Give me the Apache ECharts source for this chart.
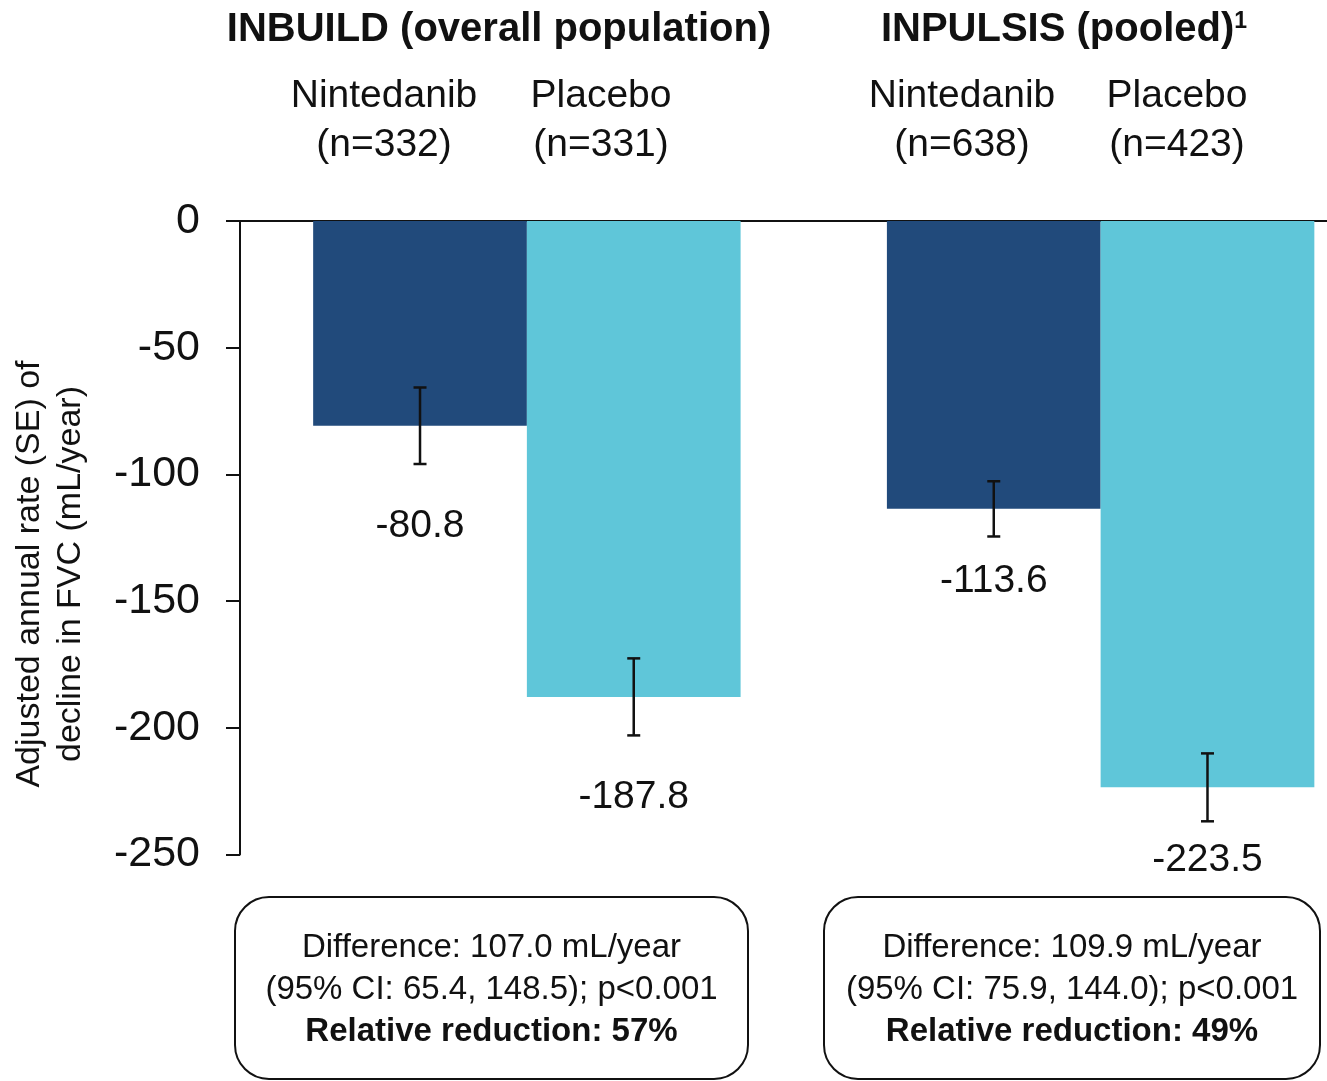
<!DOCTYPE html>
<html>
<head>
<meta charset="utf-8">
<script src="https://cdn.jsdelivr.net/npm/echarts@6/dist/echarts.min.js"></script>
<style>
  html, body { margin: 0; padding: 0; background: #ffffff; }
  #chart { width: 1327px; height: 1081px; }
</style>
</head>
<body>
<div id="chart"></div>
<script>
// ---- data ----
const trials = ['INBUILD (overall population)', 'INPULSIS (pooled)'];
const trialNotes = ['', '1'];
const arms = ['Nintedanib', 'Placebo'];
const armCounts = [[332, 331], [638, 423]];       // n per arm, per trial
const nintedanibRate = [-80.8, -113.6];           // mL/year
const placeboRate = [-187.8, -223.5];             // mL/year
const nintedanibSE = [15.1, 10.9];
const placeboSE = [15.2, 13.4];
const differenceText = [
  ['Difference: 107.0 mL/year', '(95% CI: 65.4, 148.5); p<0.001', 'Relative reduction: 57%'],
  ['Difference: 109.9 mL/year', '(95% CI: 75.9, 144.0); p<0.001', 'Relative reduction: 49%']
];
const yTicks = { min: -250, max: 0, step: 50 };
const yTitle = 'Adjusted annual rate (SE) of\ndecline in FVC (mL/year)';

// ---- style ----
const FONT = 'Liberation Sans, Arial, sans-serif';
const DARK = '#214a7b';
const LIGHT = '#5fc6d9';
const BAR_FRACTION = 0.3725;          // share of the category band per bar
const valueLabelGap = [81, 53];       // gap below bar end, per trial

const chart = echarts.init(document.getElementById('chart'), null, { renderer: 'canvas' });

function barData(values) {
  return values.map((v, i) => ({ value: v, label: { distance: valueLabelGap[i] } }));
}

const errData = [];
trials.forEach((t, i) => {
  errData.push([i, nintedanibRate[i], nintedanibSE[i], 0]);
  errData.push([i, placeboRate[i], placeboSE[i], 1]);
});

function renderErr(params, api) {
  const cat = api.value(0), v = api.value(1), se = api.value(2), arm = api.value(3);
  const band = api.size([1, 0])[0];
  const dx = (arm - 0.5) * band * BAR_FRACTION;
  const top = api.coord([cat, v + se]);
  const bot = api.coord([cat, v - se]);
  const x = top[0] + dx;
  const cap = 6.5;
  const style = { stroke: '#111111', lineWidth: 2.5 };
  return {
    type: 'group',
    children: [
      { type: 'line', shape: { x1: x, y1: top[1], x2: x, y2: bot[1] }, style },
      { type: 'line', shape: { x1: x - cap, y1: top[1], x2: x + cap, y2: top[1] }, style },
      { type: 'line', shape: { x1: x - cap, y1: bot[1], x2: x + cap, y2: bot[1] }, style }
    ]
  };
}

const valueLabel = {
  show: true,
  position: 'bottom',
  color: '#111111',
  fontFamily: FONT,
  fontSize: 39,
  formatter: p => p.value.toFixed(1)
};

// headers and boxes
const graphics = [];
const titleX = [499, 1064];
const headX = [[384, 601], [962, 1177]];
trials.forEach((t, i) => {
  graphics.push({
    type: 'text', x: titleX[i], y: 30,
    style: {
      text: trialNotes[i] ? '{b|' + t + '}{s|' + trialNotes[i] + '}' : '{b|' + t + '}',
      align: 'center', verticalAlign: 'middle',
      rich: {
        b: { fontFamily: FONT, fontSize: 40, fontWeight: 'bold', fill: '#111111', lineHeight: 40 },
        s: { fontFamily: FONT, fontSize: 23, fontWeight: 'bold', fill: '#111111', verticalAlign: 'top', lineHeight: 40 }
      }
    }
  });
  arms.forEach((a, j) => {
    graphics.push({
      type: 'text', x: headX[i][j], y: 121,
      style: {
        text: a + '\n(n=' + armCounts[i][j] + ')',
        align: 'center', verticalAlign: 'middle',
        fontFamily: FONT, fontSize: 39, lineHeight: 49, fill: '#111111'
      }
    });
  });
});

const boxes = [{ x: 235, w: 513 }, { x: 824, w: 496 }];
boxes.forEach((b, i) => {
  graphics.push({
    type: 'rect',
    shape: { x: b.x, y: 897, width: b.w, height: 182, r: 34 },
    style: { fill: '#ffffff', stroke: '#111111', lineWidth: 2 }
  });
  graphics.push({
    type: 'text', x: b.x + b.w / 2, y: 990,
    style: {
      text: '{n|' + differenceText[i][0] + '}\n{n|' + differenceText[i][1] + '}\n{k|' + differenceText[i][2] + '}',
      align: 'center', verticalAlign: 'middle',
      rich: {
        n: { fontFamily: FONT, fontSize: 33, fill: '#111111', lineHeight: 42 },
        k: { fontFamily: FONT, fontSize: 33, fontWeight: 'bold', fill: '#111111', lineHeight: 42 }
      }
    }
  });
});

graphics.push({
  type: 'text', x: 50, y: 574, rotation: Math.PI / 2,
  style: {
    text: yTitle, align: 'center', verticalAlign: 'middle',
    fontFamily: FONT, fontSize: 34, lineHeight: 41, fill: '#111111'
  }
});

chart.setOption({
  animation: false,
  backgroundColor: '#ffffff',
  // the plot area runs past the right edge, so the second pair of bars sits near it
  grid: {
    left: 240, top: 221, width: 1147.5, height: 633.5,
    containLabel: false, outerBoundsMode: 'none'
  },
  xAxis: {
    type: 'category',
    data: trials,
    axisLine: { onZero: true, lineStyle: { color: '#111111', width: 2 } },
    axisTick: { show: false },
    axisLabel: { show: false },
    splitLine: { show: false }
  },
  yAxis: {
    type: 'value',
    min: yTicks.min, max: yTicks.max, interval: yTicks.step,
    axisLine: { show: true, onZero: false, lineStyle: { color: '#111111', width: 2 } },
    axisTick: { show: true, length: 14, lineStyle: { color: '#111111', width: 2 } },
    axisLabel: { fontFamily: FONT, fontSize: 43, color: '#111111', margin: 40 },
    splitLine: { show: false }
  },
  series: [
    {
      name: arms[0], type: 'bar', data: barData(nintedanibRate),
      barWidth: (BAR_FRACTION * 100) + '%', barGap: '0%',
      itemStyle: { color: DARK }, label: valueLabel, z: 2
    },
    {
      name: arms[1], type: 'bar', data: barData(placeboRate),
      barWidth: (BAR_FRACTION * 100) + '%', barGap: '0%',
      itemStyle: { color: LIGHT }, label: valueLabel, z: 2
    },
    {
      type: 'custom', data: errData, renderItem: renderErr,
      encode: { x: 0, y: 1 }, z: 5, silent: true
    }
  ],
  graphic: graphics
});
</script>
</body>
</html>
